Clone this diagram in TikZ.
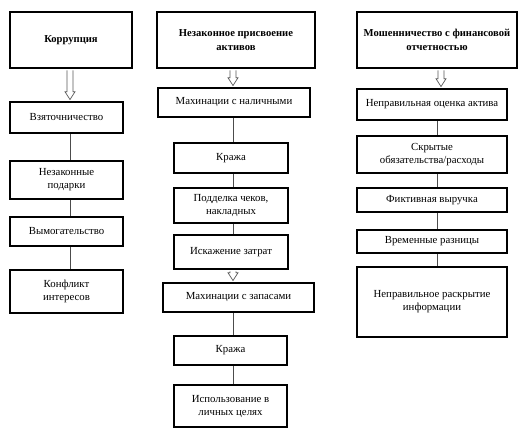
\documentclass[tikz,border=0pt]{standalone}
\usepackage{fontspec}
\setmainfont{Liberation Serif}
\usetikzlibrary{calc}
\tikzset{
  box/.style={draw, line width=2.5pt, fill=white, align=center, inner sep=2pt,
    font=\fontsize{10.8}{13}\selectfont},
  head/.style={box, font=\fontsize{10.6}{14}\selectfont\bfseries},
  link/.style={draw=black!70, line width=0.9pt},
  hollow/.style={draw=black!65, line width=0.7pt, fill=white},
}
\newcommand\hollowarr[3]{%
  \draw[hollow] let \p1=(#2.south -| #1), \p2=(#3.north) in
  (\x1-3pt,\y1-1pt) -- (\x1-3pt,\y2+9pt) -- (\x1-5pt,\y2+9pt) -- (\x1,\y2+1.2pt)
  -- (\x1+5pt,\y2+9pt) -- (\x1+3pt,\y2+9pt) -- (\x1+3pt,\y1-1pt);}
\begin{document}
\begin{tikzpicture}[x=1pt,y=-1pt]
\useasboundingbox (0,0) rectangle (532,442);
\coordinate (xa) at (70,0);
\coordinate (xb) at (233,0);
\coordinate (xc) at (437,0);
\coordinate (xh) at (441,0);
% column 1
\node[head, minimum width=122, minimum height=56] (h1) at (71,40) {Коррупция};
\node[box, minimum width=113, minimum height=31] (c1a) at (66.5,117.5) {Взяточничество};
\node[box, minimum width=113, minimum height=38] (c1b) at (66.5,180) {Незаконные\\подарки};
\node[box, minimum width=113, minimum height=29] (c1c) at (66.5,231.5) {Вымогательство};
\node[box, minimum width=113, minimum height=43] (c1d) at (66.5,291.5) {Конфликт\\интересов};
% column 2
\node[head, minimum width=158, minimum height=56] (h2) at (236,40) {Незаконное присвоение\\активов};
\node[box, minimum width=152, minimum height=29] (c2a) at (234,102.5) {Махинации с наличными};
\node[box, minimum width=114, minimum height=30] (c2b) at (231,158) {Кража};
\node[box, minimum width=114, minimum height=35] (c2c) at (231,205.5) {Подделка чеков,\\накладных};
\node[box, minimum width=114, minimum height=34] (c2d) at (231,252) {Искажение затрат};
\node[box, minimum width=151, minimum height=29] (c2e) at (238.5,297.5) {Махинации с запасами};
\node[box, minimum width=113, minimum height=29] (c2f) at (230.5,350.5) {Кража};
\node[box, minimum width=113, minimum height=42] (c2g) at (230.5,406) {Использование в\\личных целях};
% column 3
\node[head, minimum width=160, minimum height=56] (h3) at (437,40) {Мошенничество с финансовой\\отчетностью};
\node[box, minimum width=150, minimum height=31] (c3a) at (432,104.5) {Неправильная оценка актива};
\node[box, minimum width=150, minimum height=37] (c3b) at (432,154.5) {Скрытые\\обязательства/расходы};
\node[box, minimum width=150, minimum height=24] (c3c) at (432,200) {Фиктивная выручка};
\node[box, minimum width=150, minimum height=23] (c3d) at (432,241.5) {Временные разницы};
\node[box, minimum width=150, minimum height=70] (c3e) at (432,302) {Неправильное раскрытие\\информации};
% hollow arrows
\hollowarr{xa}{h1}{c1a}
\hollowarr{xb}{h2}{c2a}
\hollowarr{xb}{c2d}{c2e}
\hollowarr{xh}{h3}{c3a}
% links
\draw[link] (c1a.south -| xa) -- (c1b.north -| xa);
\draw[link] (c1b.south -| xa) -- (c1c.north -| xa);
\draw[link] (c1c.south -| xa) -- (c1d.north -| xa);
\draw[link] (c2a.south -| xb) -- (c2b.north -| xb);
\draw[link] (c2b.south -| xb) -- (c2c.north -| xb);
\draw[link] (c2c.south -| xb) -- (c2d.north -| xb);
\draw[link] (c2e.south -| xb) -- (c2f.north -| xb);
\draw[link] (c2f.south -| xb) -- (c2g.north -| xb);
\draw[link] (c3a.south -| xc) -- (c3b.north -| xc);
\draw[link] (c3b.south -| xc) -- (c3c.north -| xc);
\draw[link] (c3c.south -| xc) -- (c3d.north -| xc);
\draw[link] (c3d.south -| xc) -- (c3e.north -| xc);
\end{tikzpicture}
\end{document}
